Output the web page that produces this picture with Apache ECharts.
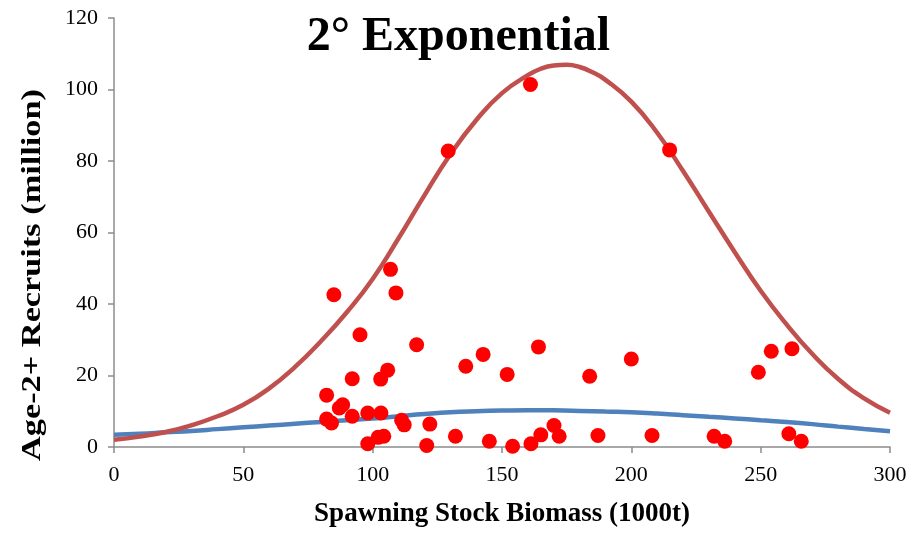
<!DOCTYPE html>
<html>
<head>
<meta charset="utf-8">
<script src="https://cdn.jsdelivr.net/npm/echarts@6/dist/echarts.min.js"></script>
<style>
  html, body { margin: 0; padding: 0; background: #fff; }
  #chart { width: 917px; height: 533px; }
</style>
</head>
<body>
<div id="chart"></div>
<script>
// Observed recruitment vs spawning stock biomass
const ssb = [85.0, 129.2, 161.0, 214.8, 106.9, 109.0, 95.1, 117.0, 142.7, 164.1,
             136.0, 152.0, 200.0, 183.9, 249.1, 254.1, 262.1, 92.1, 105.8, 103.1,
             82.2, 87.1, 88.4, 92.1, 98.1, 103.2, 82.2, 84.1, 111.2, 112.2,
             122.1, 98.1, 102.1, 104.3, 120.9, 132.0, 145.1, 154.1, 161.2, 165.0,
             170.1, 172.1, 187.1, 208.0, 232.0, 236.1, 260.9, 265.7];
const recruits = [42.6, 82.8, 101.4, 83.1, 49.7, 43.1, 31.4, 28.6, 25.9, 28.0,
                  22.6, 20.3, 24.6, 19.8, 20.9, 26.8, 27.5, 19.1, 21.5, 19.0,
                  14.5, 10.9, 11.8, 8.6, 9.5, 9.5, 7.8, 6.7, 7.5, 6.2,
                  6.4, 0.9, 2.7, 3.0, 0.4, 3.0, 1.6, 0.2, 0.9, 3.4,
                  6.0, 3.0, 3.2, 3.2, 3.0, 1.6, 3.7, 1.6];

// Quadratic-exponential fit (red), sampled more densely around its peak
const redX = [0, 10, 20, 30, 40, 50, 60, 70, 80, 90, 100, 110, 120, 130, 140, 150,
              160, 165, 170, 175, 180, 185, 190, 200, 210, 220, 230, 240, 250, 260, 270, 280, 290, 300];
const redY = [2.0, 2.9, 4.2, 6.1, 8.6, 11.8, 16.4, 22.4, 29.6, 37.7, 47.0, 58.4, 70.4, 81.8, 91.4, 99.0,
              104.0, 105.8, 106.7, 106.9, 106.3, 104.8, 102.7, 96.6, 87.9, 77.2, 65.8, 54.5, 43.7, 34.3, 26.0, 19.0, 13.6, 9.6];

// Alternative fit (blue)
const blueX = [0, 10, 20, 30, 40, 50, 60, 70, 80, 90, 100, 110, 120, 130, 140, 150,
               160, 170, 180, 190, 200, 210, 220, 230, 240, 250, 260, 270, 280, 290, 300];
const blueY = [3.4, 3.7, 4.1, 4.5, 5.0, 5.5, 6.0, 6.5, 7.0, 7.5, 8.0, 8.6, 9.2, 9.7, 10.0, 10.2,
               10.3, 10.25, 10.1, 9.9, 9.7, 9.35, 8.9, 8.45, 8.0, 7.5, 7.0, 6.4, 5.7, 5.05, 4.4];

const xTicks = { min: 0, max: 300, interval: 50 };
const yTicks = { min: 0, max: 120, interval: 20 };

const serif = '"Liberation Serif", "Times New Roman", serif';
const axisGray = '#8c8c8c';

const pairs = (xs, ys) => xs.map((x, i) => [x, ys[i]]);

const chart = echarts.init(document.getElementById('chart'), null, { renderer: 'canvas' });
chart.setOption({
  backgroundColor: '#ffffff',
  animation: false,
  title: {
    text: '2° Exponential',
    left: 'center',
    top: 9,
    textStyle: { fontFamily: serif, fontWeight: 'bold', fontSize: 48, color: '#000' }
  },
  grid: { left: 114, right: 27, top: 18, bottom: 86, containLabel: false },
  xAxis: {
    type: 'value',
    min: xTicks.min, max: xTicks.max, interval: xTicks.interval,
    name: 'Spawning Stock Biomass (1000t)',
    nameLocation: 'middle',
    nameGap: 54,
    nameTextStyle: { fontFamily: serif, fontWeight: 'bold', fontSize: 27, color: '#000' },
    axisLine: { show: true, lineStyle: { color: axisGray, width: 1.5 } },
    axisTick: { show: true, inside: false, length: 6, lineStyle: { color: axisGray, width: 1.5 } },
    axisLabel: { margin: 17, fontFamily: serif, fontSize: 22, color: '#000' },
    splitLine: { show: false }
  },
  yAxis: {
    type: 'value',
    min: yTicks.min, max: yTicks.max, interval: yTicks.interval,
    axisLine: { show: true, lineStyle: { color: axisGray, width: 1.5 } },
    axisTick: { show: true, inside: false, length: 6, lineStyle: { color: axisGray, width: 1.5 } },
    axisLabel: { margin: 16, fontFamily: serif, fontSize: 22, color: '#000' },
    splitLine: { show: false }
  },
  // Vertical axis title, stretched along its length
  graphic: [{
    type: 'text',
    x: 33,
    y: 275,
    rotation: Math.PI / 2,
    scaleX: 1.27,
    style: {
      text: 'Age-2+ Recruits (million)',
      font: 'bold 27px "Liberation Serif", "Times New Roman", serif',
      fill: '#000',
      align: 'center',
      verticalAlign: 'middle'
    }
  }],
  series: [
    {
      type: 'line',
      data: pairs(blueX, blueY),
      smooth: 0.5,
      symbol: 'none',
      lineStyle: { color: '#4F81BD', width: 4.5 },
      z: 2
    },
    {
      type: 'line',
      data: pairs(redX, redY),
      smooth: 0.5,
      symbol: 'none',
      lineStyle: { color: '#C0504D', width: 4.5 },
      z: 3
    },
    {
      type: 'scatter',
      data: pairs(ssb, recruits),
      symbol: 'circle',
      symbolSize: 15,
      itemStyle: { color: '#FF0000', opacity: 1 },
      z: 4
    }
  ]
});
</script>
</body>
</html>
